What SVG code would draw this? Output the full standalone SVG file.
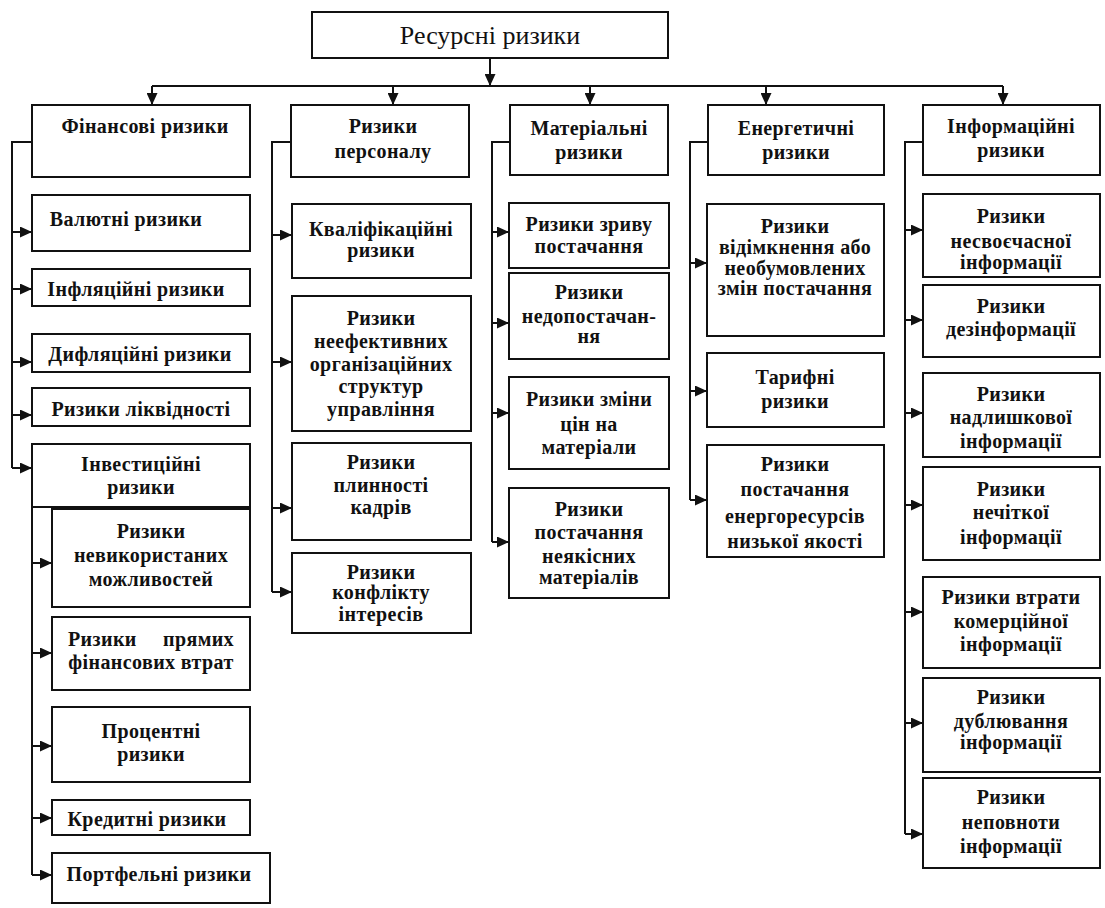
<svg xmlns="http://www.w3.org/2000/svg" width="1105" height="908" viewBox="0 0 1105 908">
  <style>
    .bx { fill: #ffffff; stroke: #111111; stroke-width: 2; }
    .t { font-family: "Liberation Serif", "Times New Roman", serif; font-weight: bold; font-size: 20px; letter-spacing: 0.4px; fill: #111111; text-anchor: middle; }
    .top { font-family: "Liberation Serif", "Times New Roman", serif; font-size: 26px; fill: #111111; text-anchor: middle; }
    .ln { fill: none; stroke: #111111; stroke-width: 2; }
    .ar { fill: none; stroke: #111111; stroke-width: 2; marker-end: url(#arrow); }
  </style>
  <defs>
    <marker id="arrow" markerUnits="userSpaceOnUse" markerWidth="12" markerHeight="11" refX="12" refY="5.5" orient="auto">
      <path d="M0,0 L12,5.5 L0,11 Z" fill="#111111"/>
    </marker>
  </defs>
  <rect width="1105" height="908" fill="#ffffff"/>

  <!-- connectors -->
  <g id="connectors">
    <path class="ar" d="M490,58 V86"/>
    <path class="ln" d="M152,86 H1003"/>
    <path class="ar" d="M152,86 V105"/>
    <path class="ar" d="M393,86 V105"/>
    <path class="ar" d="M590,86 V105"/>
    <path class="ar" d="M766,86 V105"/>
    <path class="ar" d="M1003,86 V105"/>

    <!-- financial risks -->
    <path class="ln" d="M32,142 H12 V468"/>
    <path class="ar" d="M12,232 H32"/>
    <path class="ar" d="M12,289 H32"/>
    <path class="ar" d="M12,362 H32"/>
    <path class="ar" d="M12,415 H32"/>
    <path class="ar" d="M12,468 H32"/>
    <path class="ln" d="M32,507 V875"/>
    <path class="ar" d="M32,563 H52"/>
    <path class="ar" d="M32,653 H52"/>
    <path class="ar" d="M32,746 H52"/>
    <path class="ar" d="M32,818 H52"/>
    <path class="ar" d="M32,875 H52"/>

    <!-- personnel risks -->
    <path class="ln" d="M291,142 H272 V592"/>
    <path class="ar" d="M272,235 H292"/>
    <path class="ar" d="M272,362 H292"/>
    <path class="ar" d="M272,508 H292"/>
    <path class="ar" d="M272,592 H292"/>

    <!-- material risks -->
    <path class="ln" d="M510,142 H492 V542"/>
    <path class="ar" d="M492,232 H509"/>
    <path class="ar" d="M492,323 H509"/>
    <path class="ar" d="M492,413 H509"/>
    <path class="ar" d="M492,542 H509"/>

    <!-- energy risks -->
    <path class="ln" d="M708,142 H690 V500"/>
    <path class="ar" d="M690,263 H707"/>
    <path class="ar" d="M690,391 H707"/>
    <path class="ar" d="M690,500 H707"/>

    <!-- information risks -->
    <path class="ln" d="M923,142 H905 V834"/>
    <path class="ar" d="M905,230 H923"/>
    <path class="ar" d="M905,320 H923"/>
    <path class="ar" d="M905,413 H923"/>
    <path class="ar" d="M905,505 H923"/>
    <path class="ar" d="M905,612 H923"/>
    <path class="ar" d="M905,723 H923"/>
    <path class="ar" d="M905,834 H923"/>
  </g>

  <!-- root -->
  <g id="resource-risks">
    <rect class="bx" x="312" y="12" width="356" height="46"/>
    <text class="top" x="490" y="44">Ресурсні ризики</text>
  </g>

  <!-- level 1 -->
  <g id="financial">
    <rect class="bx" x="32" y="105" width="218" height="72"/>
    <text class="t" x="145" y="133">Фінансові ризики</text>
  </g>
  <g id="personnel">
    <rect class="bx" x="291" y="105" width="178" height="72"/>
    <text class="t" x="383" y="133">Ризики</text>
    <text class="t" x="383" y="158">персоналу</text>
  </g>
  <g id="material">
    <rect class="bx" x="510" y="105" width="158" height="70"/>
    <text class="t" x="589" y="135">Матеріальні</text>
    <text class="t" x="589" y="159">ризики</text>
  </g>
  <g id="energy">
    <rect class="bx" x="708" y="105" width="176" height="70"/>
    <text class="t" x="796" y="135">Енергетичні</text>
    <text class="t" x="796" y="159">ризики</text>
  </g>
  <g id="information">
    <rect class="bx" x="923" y="105" width="177" height="70"/>
    <text class="t" x="1011" y="133">Інформаційні</text>
    <text class="t" x="1011" y="157">ризики</text>
  </g>

  <!-- financial sub-risks -->
  <g id="fin-currency">
    <rect class="bx" x="32" y="195" width="218" height="56"/>
    <text class="t" x="126" y="226">Валютні ризики</text>
  </g>
  <g id="fin-inflation">
    <rect class="bx" x="32" y="269" width="218" height="37"/>
    <text class="t" x="136" y="296">Інфляційні ризики</text>
  </g>
  <g id="fin-deflation">
    <rect class="bx" x="32" y="334" width="218" height="38"/>
    <text class="t" x="140" y="361">Дифляційні ризики</text>
  </g>
  <g id="fin-liquidity">
    <rect class="bx" x="32" y="388" width="218" height="38"/>
    <text class="t" x="141" y="416">Ризики ліквідності</text>
  </g>
  <g id="fin-investment">
    <rect class="bx" x="32" y="444" width="218" height="63"/>
    <text class="t" x="141" y="471">Інвестиційні</text>
    <text class="t" x="141" y="494">ризики</text>
  </g>
  <g id="inv-missed">
    <rect class="bx" x="52" y="509" width="198" height="98"/>
    <text class="t" x="151" y="538">Ризики</text>
    <text class="t" x="151" y="562">невикористаних</text>
    <text class="t" x="151" y="586">можливостей</text>
  </g>
  <g id="inv-direct">
    <rect class="bx" x="52" y="617" width="198" height="73"/>
    <text class="t" x="151" y="646"><tspan x="68" style="text-anchor:start">Ризики</tspan><tspan x="234" style="text-anchor:end">прямих</tspan></text>
    <text class="t" x="151" y="669">фінансових втрат</text>
  </g>
  <g id="inv-interest">
    <rect class="bx" x="52" y="707" width="198" height="75"/>
    <text class="t" x="151" y="738">Процентні</text>
    <text class="t" x="151" y="761">ризики</text>
  </g>
  <g id="inv-credit">
    <rect class="bx" x="52" y="800" width="198" height="35"/>
    <text class="t" x="147" y="826">Кредитні ризики</text>
  </g>
  <g id="inv-portfolio">
    <rect class="bx" x="52" y="853" width="218" height="50"/>
    <text class="t" x="159" y="881">Портфельні ризики</text>
  </g>

  <!-- personnel sub-risks -->
  <g id="pers-qualification">
    <rect class="bx" x="292" y="204" width="179" height="74"/>
    <text class="t" x="381" y="236">Кваліфікаційні</text>
    <text class="t" x="381" y="257">ризики</text>
  </g>
  <g id="pers-structures">
    <rect class="bx" x="292" y="296" width="179" height="135"/>
    <text class="t" x="381" y="325">Ризики</text>
    <text class="t" x="381" y="348">неефективних</text>
    <text class="t" x="381" y="371">організаційних</text>
    <text class="t" x="381" y="393">структур</text>
    <text class="t" x="381" y="416">управління</text>
  </g>
  <g id="pers-turnover">
    <rect class="bx" x="292" y="443" width="179" height="97"/>
    <text class="t" x="381" y="469">Ризики</text>
    <text class="t" x="381" y="492">плинності</text>
    <text class="t" x="381" y="514">кадрів</text>
  </g>
  <g id="pers-conflict">
    <rect class="bx" x="292" y="553" width="179" height="80"/>
    <text class="t" x="381" y="579">Ризики</text>
    <text class="t" x="381" y="599">конфлікту</text>
    <text class="t" x="381" y="621">інтересів</text>
  </g>

  <!-- material sub-risks -->
  <g id="mat-disruption">
    <rect class="bx" x="509" y="203" width="160" height="65"/>
    <text class="t" x="589" y="231">Ризики зриву</text>
    <text class="t" x="589" y="253">постачання</text>
  </g>
  <g id="mat-shortage">
    <rect class="bx" x="509" y="273" width="160" height="86"/>
    <text class="t" x="589" y="299">Ризики</text>
    <text class="t" x="589" y="323">недопостачан-</text>
    <text class="t" x="589" y="343">ня</text>
  </g>
  <g id="mat-prices">
    <rect class="bx" x="509" y="377" width="160" height="92"/>
    <text class="t" x="589" y="406">Ризики зміни</text>
    <text class="t" x="589" y="431">цін на</text>
    <text class="t" x="589" y="454">матеріали</text>
  </g>
  <g id="mat-quality">
    <rect class="bx" x="509" y="488" width="160" height="110"/>
    <text class="t" x="589" y="516">Ризики</text>
    <text class="t" x="589" y="539">постачання</text>
    <text class="t" x="589" y="563">неякісних</text>
    <text class="t" x="589" y="584">матеріалів</text>
  </g>

  <!-- energy sub-risks -->
  <g id="en-cutoff">
    <rect class="bx" x="707" y="204" width="177" height="132"/>
    <text class="t" x="795" y="233">Ризики</text>
    <text class="t" x="795" y="254">відімкнення або</text>
    <text class="t" x="795" y="275">необумовлених</text>
    <text class="t" x="795" y="295">змін постачання</text>
  </g>
  <g id="en-tariff">
    <rect class="bx" x="707" y="353" width="177" height="74"/>
    <text class="t" x="795" y="384">Тарифні</text>
    <text class="t" x="795" y="408">ризики</text>
  </g>
  <g id="en-quality">
    <rect class="bx" x="707" y="445" width="177" height="112"/>
    <text class="t" x="795" y="471">Ризики</text>
    <text class="t" x="795" y="496">постачання</text>
    <text class="t" x="795" y="523">енергоресурсів</text>
    <text class="t" x="795" y="548">низької якості</text>
  </g>

  <!-- information sub-risks -->
  <g id="inf-untimely">
    <rect class="bx" x="923" y="194" width="177" height="83"/>
    <text class="t" x="1011" y="223">Ризики</text>
    <text class="t" x="1011" y="248">несвоєчасної</text>
    <text class="t" x="1011" y="269">інформації</text>
  </g>
  <g id="inf-disinformation">
    <rect class="bx" x="923" y="285" width="177" height="72"/>
    <text class="t" x="1011" y="313">Ризики</text>
    <text class="t" x="1011" y="336">дезінформації</text>
  </g>
  <g id="inf-redundant">
    <rect class="bx" x="923" y="373" width="177" height="84"/>
    <text class="t" x="1011" y="401">Ризики</text>
    <text class="t" x="1011" y="424">надлишкової</text>
    <text class="t" x="1011" y="448">інформації</text>
  </g>
  <g id="inf-vague">
    <rect class="bx" x="923" y="467" width="177" height="93"/>
    <text class="t" x="1011" y="496">Ризики</text>
    <text class="t" x="1011" y="519">нечіткої</text>
    <text class="t" x="1011" y="544">інформації</text>
  </g>
  <g id="inf-commercial">
    <rect class="bx" x="923" y="577" width="177" height="91"/>
    <text class="t" x="1011" y="604">Ризики втрати</text>
    <text class="t" x="1011" y="628">комерційної</text>
    <text class="t" x="1011" y="651">інформації</text>
  </g>
  <g id="inf-duplication">
    <rect class="bx" x="923" y="678" width="177" height="94"/>
    <text class="t" x="1011" y="704">Ризики</text>
    <text class="t" x="1011" y="728">дублювання</text>
    <text class="t" x="1011" y="749">інформації</text>
  </g>
  <g id="inf-incomplete">
    <rect class="bx" x="923" y="778" width="177" height="90"/>
    <text class="t" x="1011" y="804">Ризики</text>
    <text class="t" x="1011" y="829">неповноти</text>
    <text class="t" x="1011" y="853">інформації</text>
  </g>
</svg>
